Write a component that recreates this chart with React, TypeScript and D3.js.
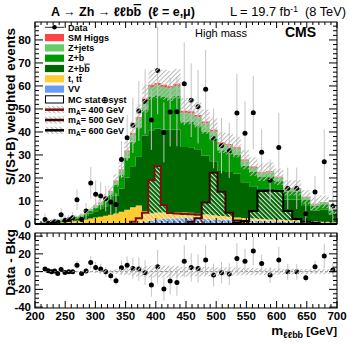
import React, { useEffect, useRef } from 'react';
import * as d3 from 'd3';

const binEdges = [200, 205, 209.5, 214, 219.2, 224.8, 230.2, 235, 240.2, 246.3, 253, 259, 265.5, 273.5, 280.8, 288.3, 296.3, 304.6, 313, 321.2, 329.7, 338.5, 347.8, 357.3, 366.8, 377.1, 387.5, 397.8, 408.3, 418.5, 429, 440.9, 453.3, 464, 475.9, 489.2, 502.2, 515.4, 527.8, 540.8, 554.5, 568.3, 582.2, 596.3, 611, 625.9, 640.8, 655.9, 671.3, 686.4, 700];

// background stack, S/(S+B) weighted events per bin (bottom -> top)
const vvVals = [0, 0, 0, 0, 0, 0, 0, 0, 0, 0, 0, 0, 0, 0, 0, 0, 0, 0, 0, 0, 0, 0.1, 0.2, 0.3, 0.5, 1.0, 1.5, 2.0, 2.2, 2.3, 2.5, 2.5, 2.5, 2.3, 2.2, 2.0, 2.0, 1.8, 1.6, 1.5, 1.4, 1.3, 1.2, 1.1, 1.0, 0.9, 0.8, 0.7, 0.6, 0.5];
const ttVals = [0.1, 0.2, 0.3, 0.35, 0.4, 0.5, 0.6, 0.7, 0.8, 0.9, 1.0, 1.2, 1.4, 1.7, 2.0, 2.4, 2.8, 3.2, 3.6, 4.0, 4.6, 5.2, 6.0, 7.0, 7.5, 4.5, 3.2, 3.0, 2.8, 2.7, 2.6, 2.5, 2.4, 2.2, 2.0, 1.8, 1.5, 1.3, 1.2, 1.1, 1.0, 0.9, 0.8, 0.7, 0.6, 0.6, 0.5, 0.4, 0.4, 0.3];
const zbbVals = [0.1, 0.15, 0.2, 0.3, 0.35, 0.4, 0.45, 0.55, 0.6, 0.7, 0.75, 0.85, 0.95, 1.15, 1.5, 2.1, 2.7, 3.3, 4.1, 5.6, 7.8, 10.0, 14.0, 17.8, 21.5, 33.0, 36.0, 36.5, 36.0, 36.0, 36.0, 28.5, 28.5, 28.0, 25.5, 23.5, 19.5, 19.5, 19.0, 15.5, 14.0, 13.0, 13.5, 12.5, 9.0, 9.2, 6.5, 4.8, 5.2, 3.4];
const zbVals = [0.1, 0.1, 0.15, 0.2, 0.25, 0.3, 0.35, 0.4, 0.45, 0.5, 0.55, 0.6, 0.65, 0.8, 1.0, 1.4, 1.7, 2.0, 2.4, 3.3, 4.6, 6.0, 8.6, 10.6, 12.6, 11.0, 14.5, 14.5, 14.2, 13.7, 14.6, 11.0, 10.9, 10.4, 10.5, 9.6, 9.1, 8.8, 8.4, 7.2, 6.2, 5.2, 5.3, 4.4, 3.6, 3.5, 2.9, 2.1, 2.4, 1.5];
const zjetsVals = [0, 0.05, 0.05, 0.05, 0.1, 0.1, 0.1, 0.15, 0.15, 0.2, 0.2, 0.25, 0.3, 0.3, 0.4, 0.5, 0.6, 0.7, 0.8, 1.1, 1.5, 1.9, 2.6, 3.1, 3.6, 4.0, 4.3, 4.3, 4.3, 4.3, 4.3, 3.8, 3.8, 3.6, 3.5, 3.3, 2.7, 2.7, 2.6, 2.2, 1.9, 1.7, 1.7, 1.5, 1.2, 1.2, 0.9, 0.6, 0.8, 0.5];
const smHiggsVals = [0, 0, 0, 0, 0, 0, 0, 0, 0, 0, 0, 0, 0, 0.05, 0.1, 0.1, 0.2, 0.2, 0.3, 0.3, 0.4, 0.5, 0.6, 0.7, 0.8, 1.0, 1.0, 1.0, 1.0, 1.0, 1.0, 0.9, 0.9, 0.9, 0.8, 0.8, 0.7, 0.7, 0.6, 0.5, 0.5, 0.4, 0.4, 0.3, 0.3, 0.3, 0.2, 0.2, 0.2, 0.1];
// MC stat+syst half-width
const mcErrVals = [0.2, 0.2, 0.3, 0.3, 0.3, 0.4, 0.4, 0.4, 0.5, 0.5, 0.5, 0.6, 0.7, 0.8, 0.9, 1.1, 1.3, 1.5, 1.8, 2.2, 2.7, 3.3, 4.0, 4.8, 5.4, 6.0, 6.5, 6.5, 6.5, 6.5, 6.5, 5.6, 5.6, 5.5, 5.3, 5.0, 4.6, 4.6, 4.5, 4.2, 4.0, 3.8, 3.8, 3.6, 3.3, 3.3, 3.0, 2.7, 2.8, 2.4];

// signal hypotheses
const sig400Vals = [0, 0, 0, 0, 0, 0, 0, 0, 0, 0, 0, 0, 0, 0, 0, 0, 0, 0, 0, 0, 0, 0, 0, 1.0, 2.5, 4.9, 19, 25.2, 8.3, 4.8, 4.6, 4.4, 4.2, 4.0, 0, 0, 0, 0, 0, 0, 0, 0, 0, 0, 0, 0, 0, 0, 0, 0];
const sig500Vals = [0, 0, 0, 0, 0, 0, 0, 0, 0, 0, 0, 0, 0, 0, 0, 0, 0, 0, 0, 0, 0, 0, 0, 0, 0, 0, 0, 0, 0, 0, 0, 0, 1.0, 2.5, 9.3, 22.3, 14, 4.9, 1.5, 0.8, 0, 0, 0, 0, 0, 0, 0, 0, 0, 0];
const sig600Vals = [0, 0, 0, 0, 0, 0, 0, 0, 0, 0, 0, 0, 0, 0, 0, 0, 0, 0, 0, 0, 0, 0, 0, 0, 0, 0, 0, 0, 0, 0, 0, 0, 0, 0, 0, 0, 0, 0, 0.5, 1.3, 5.7, 14.3, 14.5, 14.3, 5.7, 2.2, 1.0, 0.4, 0, 0];

// data and data - bkg
const dataVals = [null, null, null, 2.0, 0.3, 0.6, 1.0, 0.8, 4.0, 1.6, 2.0, 2.7, 10.5, 2.0, 5.6, 17.8, 12.9, 12.2, 11.0, 9.6, 8.5, 28.0, 37.5, 42.9, 49.1, 53.2, 45.2, 66.7, 39.8, 48.7, 48.8, 61.0, 53.8, 51.0, 58.6, 37.2, 34.0, 32.0, 48.3, 39.4, 48.4, 31.2, 19.0, 33.2, 15.5, 15.5, 4.5, 13.9, 27.1, 7.8];
const dataErrVals = [0, 0, 0, 2.5, 1.5, 1.5, 1.5, 1.5, 3, 2, 2, 2.5, 4.5, 2.5, 3.5, 7, 6, 6, 5.5, 5.5, 5, 8, 10, 12, 13, 14, 13, 19, 13, 15, 15, 18, 16, 16, 17, 13, 12, 12, 17, 14, 16, 10, 9, 15, 9, 9, 4.5, 7, 14, 8];
const diffVals = [null, null, null, 2.8, 0.9, -0.2, 0.6, -2, 2.5, -0.9, -0.2, -0.2, 7.3, -2, 0.6, 10.4, 4.7, 2.8, -0.2, -4.7, -10.4, 4.3, 7.3, 3.6, 2.8, -1.3, -15.2, 5.4, -19.7, -10.7, -12.2, 11.8, 4.7, 3.6, 13, -3.9, -1.3, -2.8, 14.9, 11.8, 23.1, 9.2, -3.9, 13, -0.2, -0.2, -7, 5.4, 17.5, 1.7];

const xTickVals = [200, 250, 300, 350, 400, 450, 500, 550, 600, 650, 700];
const yTopTickVals = [0, 10, 20, 30, 40, 50, 60, 70, 80];
const yBotTickVals = [-40, -20, 0, 20, 40];

const FONT = '"Liberation Sans", Arial, Helvetica, sans-serif';
const X0 = 35;
const X1 = 337;
const TOP = { y0: 22, y1: 224 };
const BOT = { y0: 233, y1: 308 };

type Part = { t: string; over?: boolean; shift?: number; size?: number };

const rich = (sel: any, parts: Part[]) => {
  let cur = 0;
  parts.forEach((p) => {
    const ts = sel.append('tspan').text(p.t);
    const s = p.shift || 0;
    if (s !== cur) ts.attr('dy', s - cur);
    cur = s;
    if (p.size) ts.attr('font-size', p.size);
    if (p.over) ts.style('text-decoration', 'overline');
  });
};

const App = () => {
  const ref = useRef<SVGSVGElement>(null);

  useEffect(() => {
    const svg = d3.select(ref.current);
    svg.selectAll('*').remove();
    const N = binEdges.length - 1;

    const x = d3.scaleLinear().domain([200, 700]).range([X0, X1]);
    const yTop = d3.scaleLinear().domain([0, 87.8]).range([TOP.y1, TOP.y0]);
    const yBot = d3.scaleLinear().domain([-41, 43.5]).range([BOT.y1, BOT.y0]);
    const mid = (i: number) => (binEdges[i] + binEdges[i + 1]) / 2;

    const defs = svg.append('defs');
    const hatch = (id: string, color: string, angle: number, w: number) => {
      const p = defs
        .append('pattern')
        .attr('id', id)
        .attr('patternUnits', 'userSpaceOnUse')
        .attr('width', 3.2)
        .attr('height', 3.2)
        .attr('patternTransform', `rotate(${angle})`);
      p.append('line').attr('x1', 0.5).attr('y1', 0).attr('x2', 0.5).attr('y2', 3.2).attr('stroke', color).attr('stroke-width', w);
    };
    hatch('bandHatch', '#b9b9b9', 45, 1.1);
    hatch('sigHatch', '#e8efe8', -45, 1.1);
    hatch('legHatch', '#b0b0b0', -45, 1);

    defs.append('clipPath').attr('id', 'clipTop').append('rect').attr('x', X0).attr('y', TOP.y0).attr('width', X1 - X0).attr('height', TOP.y1 - TOP.y0);
    defs.append('clipPath').attr('id', 'clipBot').append('rect').attr('x', X0).attr('y', BOT.y0).attr('width', X1 - X0).attr('height', BOT.y1 - BOT.y0);

    // ---------- top panel ----------
    const gTop = svg.append('g').attr('clip-path', 'url(#clipTop)');
    const rows = d3.range(N).map((i) => ({
      vv: vvVals[i],
      tt: ttVals[i],
      zbb: zbbVals[i],
      zb: zbVals[i],
      zjets: zjetsVals[i],
      smh: smHiggsVals[i],
    }));
    const keys = ['vv', 'tt', 'zbb', 'zb', 'zjets', 'smh'];
    const colors: Record<string, string> = {
      vv: '#6b9af5',
      tt: '#ffcc33',
      zbb: '#006600',
      zb: '#009a00',
      zjets: '#66cc66',
      smh: '#ff4444',
    };
    const series = d3.stack<any>().keys(keys)(rows);
    const area = (ys: any) =>
      d3
        .area<any>()
        .x((d) => x(d.x))
        .y0((d) => ys(d.y0))
        .y1((d) => ys(d.y1))
        .curve(d3.curveStepAfter);
    const stepPts = (lo: number[], hi: number[]) => {
      const pts = lo.map((v, i) => ({ x: binEdges[i], y0: v, y1: hi[i] }));
      pts.push({ x: binEdges[N], y0: lo[N - 1], y1: hi[N - 1] });
      return pts;
    };

    series.forEach((s) => {
      gTop
        .append('path')
        .attr('d', area(yTop)(stepPts(s.map((d) => d[0]), s.map((d) => d[1]))))
        .attr('fill', colors[s.key]);
    });

    const totals = rows.map((r) => keys.reduce((a, k) => a + (r as any)[k], 0));

    // signals
    const sigs = [
      { vals: sig400Vals, color: '#7d1010' },
      { vals: sig500Vals, color: '#3a0806' },
      { vals: sig600Vals, color: '#000000' },
    ];
    sigs.forEach((sg) => {
      const idx = sg.vals.map((v, i) => (v > 0 ? i : -1)).filter((i) => i >= 0);
      const f = idx[0];
      const l = idx[idx.length - 1];
      const pts: [number, number][] = [[x(binEdges[f]), yTop(0)]];
      for (let i = f; i <= l; i++) {
        pts.push([x(binEdges[i]), yTop(sg.vals[i])]);
        pts.push([x(binEdges[i + 1]), yTop(sg.vals[i])]);
      }
      pts.push([x(binEdges[l + 1]), yTop(0)]);
      const line = d3.line();
      gTop.append('path').attr('d', line(pts) + 'Z').attr('fill', 'url(#sigHatch)');
      gTop
        .append('path')
        .attr('d', line(pts))
        .attr('fill', 'none')
        .attr('stroke', sg.color)
        .attr('stroke-width', 2);
    });

    // data
    const dataIdx = d3.range(N).filter((i) => dataVals[i] !== null);
    gTop
      .selectAll('line.err')
      .data(dataIdx)
      .enter()
      .append('line')
      .attr('x1', (i) => x(mid(i)))
      .attr('x2', (i) => x(mid(i)))
      .attr('y1', (i) => yTop(Math.max(0, (dataVals[i] as number) - dataErrVals[i])))
      .attr('y2', (i) => yTop((dataVals[i] as number) + dataErrVals[i]))
      .attr('stroke', '#c4c4c4')
      .attr('stroke-width', 1);
    gTop
      .selectAll('circle.pt')
      .data(dataIdx)
      .enter()
      .append('circle')
      .attr('cx', (i) => x(mid(i)))
      .attr('cy', (i) => yTop(dataVals[i] as number))
      .attr('r', 2.5)
      .attr('fill', '#000');

    // MC uncertainty band
    gTop
      .append('path')
      .attr(
        'd',
        area(yTop)(
          stepPts(
            totals.map((t, i) => t - mcErrVals[i]),
            totals.map((t, i) => t + mcErrVals[i])
          )
        )
      )
      .attr('fill', 'url(#bandHatch)');

    // ---------- bottom panel ----------
    const gBot = svg.append('g').attr('clip-path', 'url(#clipBot)');
    gBot
      .append('line')
      .attr('x1', X0)
      .attr('x2', X1)
      .attr('y1', yBot(0))
      .attr('y2', yBot(0))
      .attr('stroke', '#888')
      .attr('stroke-dasharray', '3,2')
      .attr('stroke-width', 1);
    const diffIdx = d3.range(N).filter((i) => diffVals[i] !== null);
    gBot
      .selectAll('line.err')
      .data(diffIdx)
      .enter()
      .append('line')
      .attr('x1', (i) => x(mid(i)))
      .attr('x2', (i) => x(mid(i)))
      .attr('y1', (i) => yBot((diffVals[i] as number) - dataErrVals[i]))
      .attr('y2', (i) => yBot((diffVals[i] as number) + dataErrVals[i]))
      .attr('stroke', '#c4c4c4')
      .attr('stroke-width', 1);
    gBot
      .selectAll('circle.pt')
      .data(diffIdx)
      .enter()
      .append('circle')
      .attr('cx', (i) => x(mid(i)))
      .attr('cy', (i) => yBot(diffVals[i] as number))
      .attr('r', 2.5)
      .attr('fill', '#000');
    gBot
      .append('path')
      .attr(
        'd',
        area(yBot)(
          stepPts(
            mcErrVals.map((e) => -e),
            mcErrVals
          )
        )
      )
      .attr('fill', 'url(#bandHatch)');

    // ---------- frames, ticks, labels ----------
    const axes = svg.append('g').attr('stroke', '#000').attr('stroke-width', 1);
    const frame = (y0: number, y1: number, ys: any, majors: number[], minorStep: number, lo: number, hi: number, xl: number[], yl: number[]) => {
      axes.append('rect').attr('x', X0).attr('y', y0).attr('width', X1 - X0).attr('height', y1 - y0).attr('fill', 'none');
      d3.range(200, 701, 10).forEach((v) => {
        const len = v % 50 === 0 ? xl[0] : xl[1];
        axes.append('line').attr('x1', x(v)).attr('x2', x(v)).attr('y1', y1).attr('y2', y1 - len);
        axes.append('line').attr('x1', x(v)).attr('x2', x(v)).attr('y1', y0).attr('y2', y0 + len);
      });
      d3.range(lo, hi, minorStep).forEach((v) => {
        const len = majors.includes(v) ? yl[0] : yl[1];
        const yy = ys(v);
        axes.append('line').attr('x1', X0).attr('x2', X0 + len).attr('y1', yy).attr('y2', yy);
        axes.append('line').attr('x1', X1).attr('x2', X1 - len).attr('y1', yy).attr('y2', yy);
      });
      svg
        .append('g')
        .selectAll('text')
        .data(majors)
        .enter()
        .append('text')
        .attr('x', X0 - 4)
        .attr('y', (v) => ys(v) + 4)
        .attr('text-anchor', 'end')
        .attr('font-family', FONT)
        .attr('font-weight', 'bold')
        .attr('font-size', 11.5)
        .text((v) => String(v));
    };
    frame(TOP.y0, TOP.y1, yTop, yTopTickVals, 2, 0, 87.8, [6, 3], [8, 4]);
    frame(BOT.y0, BOT.y1, yBot, yBotTickVals, 5, -40, 43.5, [7, 4], [8, 4]);
    axes.append('line').attr('x1', X0).attr('x2', X1).attr('y1', TOP.y1).attr('y2', TOP.y1).attr('stroke-width', 2);

    svg
      .append('g')
      .selectAll('text')
      .data(xTickVals)
      .enter()
      .append('text')
      .attr('x', (v) => x(v))
      .attr('y', 320)
      .attr('text-anchor', 'middle')
      .attr('font-family', FONT)
      .attr('font-weight', 'bold')
      .attr('font-size', 11.5)
      .text((v) => String(v));

    const txt = (xx: number, yy: number, size: number, weight: string, anchor = 'start') =>
      svg
        .append('text')
        .attr('x', xx)
        .attr('y', yy)
        .attr('font-family', FONT)
        .attr('font-size', size)
        .attr('font-weight', weight)
        .attr('text-anchor', anchor)
        .style('white-space', 'pre');

    // axis titles
    const xt = txt(X1, 335, 12, 'bold', 'end');
    rich(xt, [
      { t: 'm', size: 13.5 },
      { t: 'ℓℓbb', size: 9, shift: 3 },
      { t: ' [GeV]', size: 11.5 },
    ]);
    txt(0, 0, 13.5, 'bold', 'end').attr('transform', `translate(15,${TOP.y0 + 6}) rotate(-90)`).text('S/(S+B) weighted events');
    txt(0, 0, 13.5, 'bold', 'end').attr('transform', `translate(15,229) rotate(-90)`).text('Data - Bkg');

    // header
    rich(txt(51, 16, 12.5, 'bold'), [
      { t: 'A → Zh → ℓℓb' },
      { t: 'b', over: true },
      { t: '  (ℓ = e,μ)' },
    ]);
    rich(txt(346, 16, 12.8, 'normal', 'end'), [
      { t: 'L = 19.7 fb' },
      { t: '-1', size: 8.5, shift: -4.5 },
      { t: '  (8 TeV)' },
    ]);
    txt(195, 37, 11, 'normal').text('High mass');
    txt(285, 37, 14, 'bold').text('CMS');

    // legend
    const leg = svg.append('g');
    const legX = 45;
    const legW = 19;
    const entries: { parts: Part[]; kind: string; color?: string }[] = [
      { parts: [{ t: 'Data' }], kind: 'data' },
      { parts: [{ t: 'SM Higgs' }], kind: 'fill', color: colors.smh },
      { parts: [{ t: 'Z+jets' }], kind: 'fill', color: colors.zjets },
      { parts: [{ t: 'Z+b' }], kind: 'fill', color: colors.zb },
      { parts: [{ t: 'Z+b' }, { t: 'b', over: true }], kind: 'fill', color: colors.zbb },
      { parts: [{ t: 't, t' }, { t: 't', over: true }], kind: 'fill', color: colors.tt },
      { parts: [{ t: 'VV' }], kind: 'fill', color: colors.vv },
      { parts: [{ t: 'MC stat⊕syst' }], kind: 'box' },
      { parts: [{ t: 'm' }, { t: 'A', size: 6.5, shift: 2 }, { t: '= 400 GeV' }], kind: 'sig', color: sigs[0].color },
      { parts: [{ t: 'm' }, { t: 'A', size: 6.5, shift: 2 }, { t: '= 500 GeV' }], kind: 'sig', color: sigs[1].color },
      { parts: [{ t: 'm' }, { t: 'A', size: 6.5, shift: 2 }, { t: '= 600 GeV' }], kind: 'sig', color: sigs[2].color },
    ];
    entries.forEach((e, k) => {
      const cy = 27.3 + k * 10.3;
      if (e.kind === 'data') {
        leg.append('line').attr('x1', legX).attr('x2', legX + legW).attr('y1', cy).attr('y2', cy).attr('stroke', '#333').attr('stroke-width', 1);
        leg.append('circle').attr('cx', legX + legW / 2).attr('cy', cy).attr('r', 2.3).attr('fill', '#000');
      } else if (e.kind === 'fill') {
        leg.append('rect').attr('x', legX).attr('y', cy - 3.6).attr('width', legW).attr('height', 7.2).attr('fill', e.color as string);
      } else if (e.kind === 'box') {
        leg.append('rect').attr('x', legX + 0.5).attr('y', cy - 3.6).attr('width', legW - 1).attr('height', 7.2).attr('fill', '#fff').attr('stroke', '#000').attr('stroke-width', 1);
      } else {
        leg.append('rect').attr('x', legX).attr('y', cy - 3.6).attr('width', legW).attr('height', 7.2).attr('fill', 'url(#legHatch)');
        leg.append('line').attr('x1', legX).attr('x2', legX + legW).attr('y1', cy).attr('y2', cy).attr('stroke', e.color as string).attr('stroke-width', 2.5);
      }
      rich(
        leg
          .append('text')
          .attr('x', legX + legW + 4)
          .attr('y', cy + 3.2)
          .attr('font-family', FONT)
          .attr('font-weight', 'bold')
          .attr('font-size', 9),
        e.parts
      );
    });
  }, []);

  return (
    <div style={{ position: 'absolute', left: 0, top: 0, width: 355, height: 344, background: '#fff' }}>
      <svg ref={ref} width={355} height={344} />
    </div>
  );
};

export default App;
